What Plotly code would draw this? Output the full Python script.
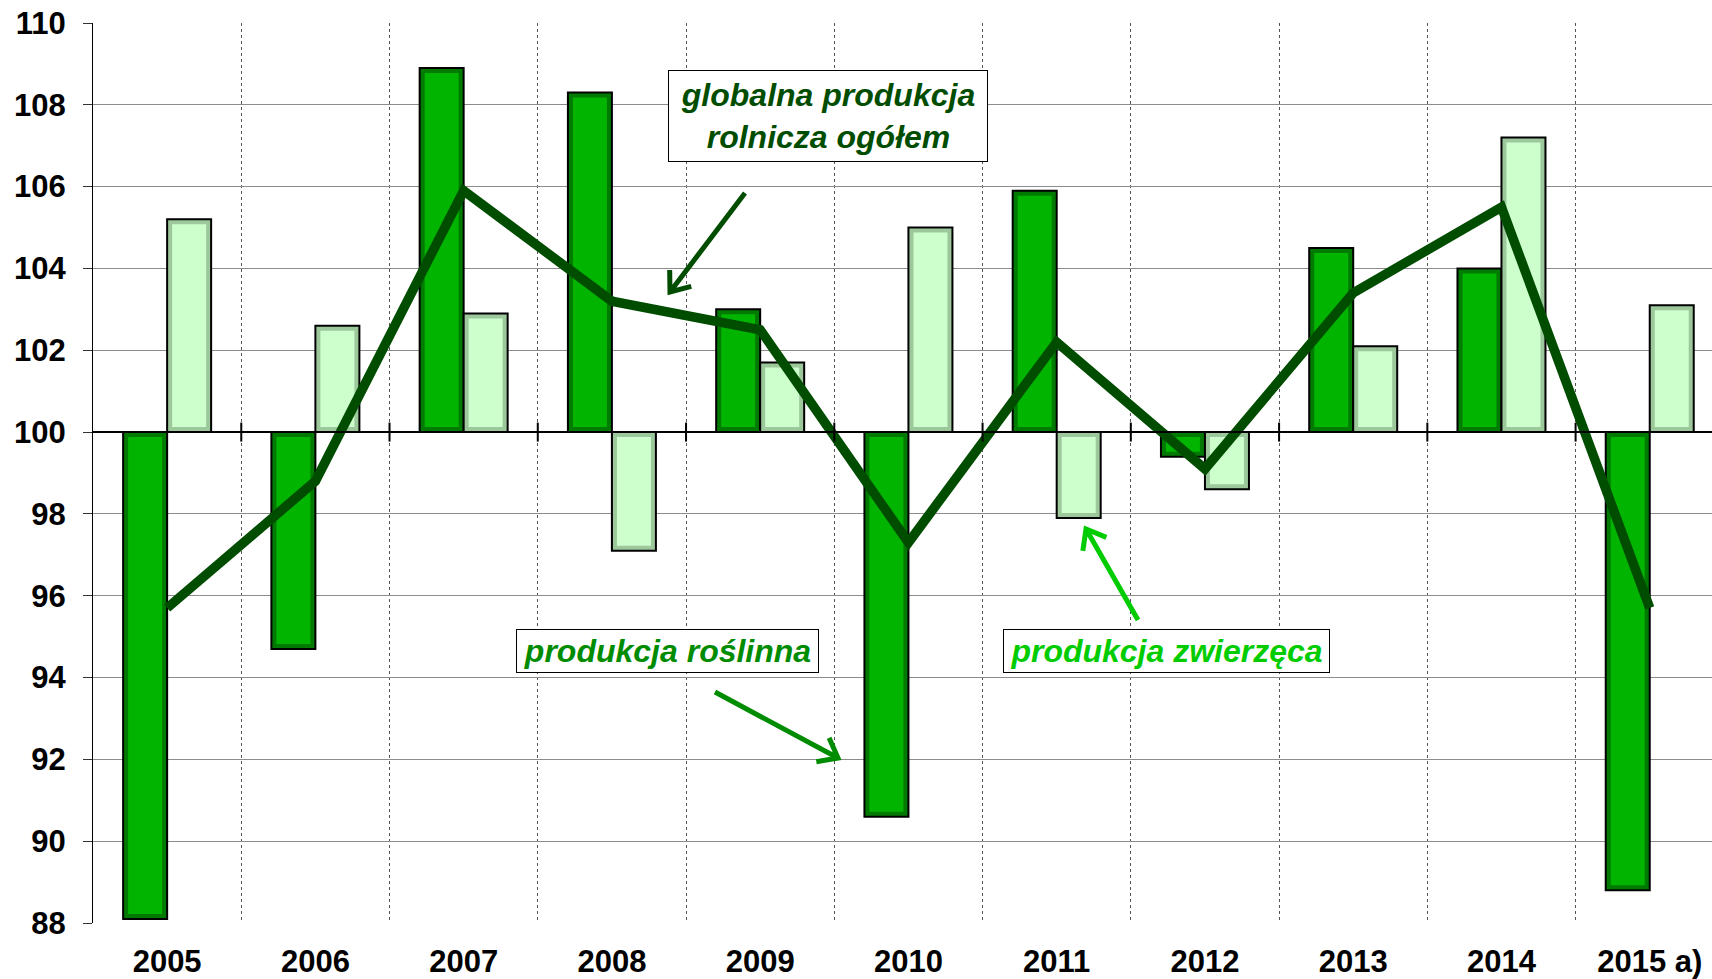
import numpy as np
import plotly.graph_objects as go

# ---------------- data ----------------
years = ["2005", "2006", "2007", "2008", "2009", "2010", "2011", "2012", "2013", "2014", "2015 a)"]
roslinna = [88.1, 94.7, 108.9, 108.3, 103.0, 90.6, 105.9, 99.4, 104.5, 104.0, 88.8]
zwierzeca = [105.2, 102.6, 102.9, 97.1, 101.7, 105.0, 97.9, 98.6, 102.1, 107.2, 103.1]
globalna = [95.7, 98.8, 105.9, 103.2, 102.5, 97.3, 102.2, 99.1, 103.4, 105.5, 95.7]
base_value = 100
y_ticks = list(range(88, 111, 2))

# ---------------- layout constants ----------------
W, H = 1712, 979
ML, MT, MB, MR = 93, 23, 56, 0
UNIT_X = 148.26
XMIN = -0.5
XMAX = XMIN + (W - ML - MR) / UNIT_X
YMIN, YMAX = 88, 110
UNIT_Y = (H - MT - MB) / (YMAX - YMIN)

FONT = "Liberation Sans, Arial, sans-serif"
FS = 31
LINE = "#004D00"

BAR_W = 44 / UNIT_X          # bar width in category units
INSET_X = 5 / UNIT_X         # bevel inset
INSET_Y = 5 / UNIT_Y


def px2x(px):
    return (px - ML) / UNIT_X + XMIN


def px2y(py):
    return YMAX - (py - MT) / UNIT_Y


x = np.arange(len(years))

fig = go.Figure()


def add_bevel_bar(values, offset, outer, inner, name):
    d = np.array(values) - base_value
    fig.add_trace(go.Bar(
        x=x, y=d, base=base_value, offset=offset, width=BAR_W, name=name,
        marker=dict(color=outer, line=dict(color="black", width=2)), hoverinfo="skip",
    ))
    s = np.sign(d)
    fig.add_trace(go.Bar(
        x=x, y=d - 2 * s * INSET_Y, base=base_value + s * INSET_Y,
        offset=offset + INSET_X, width=BAR_W - 2 * INSET_X, name=name,
        marker=dict(color=inner, line=dict(width=0)), hoverinfo="skip", showlegend=False,
    ))


add_bevel_bar(roslinna, -BAR_W, "#007A00", "#00B400", "produkcja roślinna")
add_bevel_bar(zwierzeca, 0.0, "#9CC89C", "#CCFFCC", "produkcja zwierzęca")

fig.add_trace(go.Scatter(
    x=x, y=globalna, mode="lines", name="globalna produkcja rolnicza ogółem",
    line=dict(color=LINE, width=9.5),
))

shapes = []
# reference line at 100
shapes.append(dict(type="line", xref="paper", yref="y", x0=0, x1=1, y0=base_value, y1=base_value,
                   line=dict(color="black", width=2), layer="above"))
# tick marks on the 100 line at category boundaries
half = 9.5 / UNIT_Y
for b in np.arange(0.5, len(years) - 0.5, 1.0):
    shapes.append(dict(type="line", xref="x", yref="y", x0=b, x1=b,
                       y0=base_value - half, y1=base_value + half,
                       line=dict(color="black", width=2), layer="above"))


def arrow(p0, p1, color, width=5, head=22, ang=38):
    p0 = np.array(p0, float)
    p1 = np.array(p1, float)
    d = p1 - p0
    d /= np.linalg.norm(d)
    a = np.radians(ang)
    back = -d
    rot = lambda v, t: np.array([v[0] * np.cos(t) - v[1] * np.sin(t), v[0] * np.sin(t) + v[1] * np.cos(t)])
    l1 = p1 + head * rot(back, a)
    l2 = p1 + head * rot(back, -a)
    pts = lambda p: f"{px2x(p[0])},{px2y(p[1])}"
    path = f"M {pts(p0)} L {pts(p1)} M {pts(l1)} L {pts(p1)} L {pts(l2)}"
    return dict(type="path", xref="x", yref="y", path=path,
                line=dict(color=color, width=width), layer="above")


shapes.append(arrow((745, 193), (670, 292), "#004D00"))
shapes.append(arrow((715, 692), (838, 758), "#008C00"))
shapes.append(arrow((1138, 620), (1086, 529), "#00CC00"))


def box(cx, cy, w, h, text, color):
    return dict(xref="x", yref="y", x=px2x(cx), y=px2y(cy), text=text, showarrow=False,
                font=dict(family=FONT, size=32, color=color),
                bgcolor="white", bordercolor="black", borderwidth=1, borderpad=0,
                width=w, height=h, align="center", valign="middle",
                xanchor="center", yanchor="middle")


annotations = [
    box(827.5, 116, 318, 90, "<b><i>globalna produkcja<br>rolnicza ogółem</i></b>", "#004D00"),
    box(667.5, 650.5, 301, 42, "<b><i>produkcja roślinna</i></b>", "#008C00"),
    box(1166, 650.5, 325, 42, "<b><i>produkcja zwierzęca</i></b>", "#00CC00"),
]

fig.update_layout(
    width=W, height=H,
    margin=dict(l=ML, r=MR, t=MT, b=MB, pad=0, autoexpand=False),
    paper_bgcolor="white", plot_bgcolor="white",
    barmode="overlay",
    showlegend=False,
    shapes=shapes, annotations=annotations,
    font=dict(family=FONT, color="black"),
)
fig.update_xaxes(
    range=[XMIN, XMAX], tickmode="array", tickvals=list(x), ticktext=years,
    showgrid=False, zeroline=False, showline=False, ticks="", automargin=False,
    ticklabelstandoff=17,
    tickfont=dict(family=FONT, size=FS, color="black", weight="bold"),
    minor=dict(tickmode="array", tickvals=list(np.arange(0.5, len(years), 1.0)),
               showgrid=True, gridcolor="#555555", gridwidth=1, griddash="dot", ticks=""),
)
fig.update_yaxes(
    range=[YMIN, YMAX], tickmode="array", tickvals=y_ticks,
    showgrid=True, gridcolor="#8C8C8C", gridwidth=1, zeroline=False,
    showline=True, linecolor="black", linewidth=1, automargin=False,
    ticks="outside", ticklen=9, tickcolor="#333333", tickwidth=1,
    ticklabelstandoff=11,
    tickfont=dict(family=FONT, size=FS, color="black", weight="bold"),
)

fig.write_html("out.html", config={"displayModeBar": False},
               post_script="document.body.style.margin='0';document.body.style.overflow='hidden';")
